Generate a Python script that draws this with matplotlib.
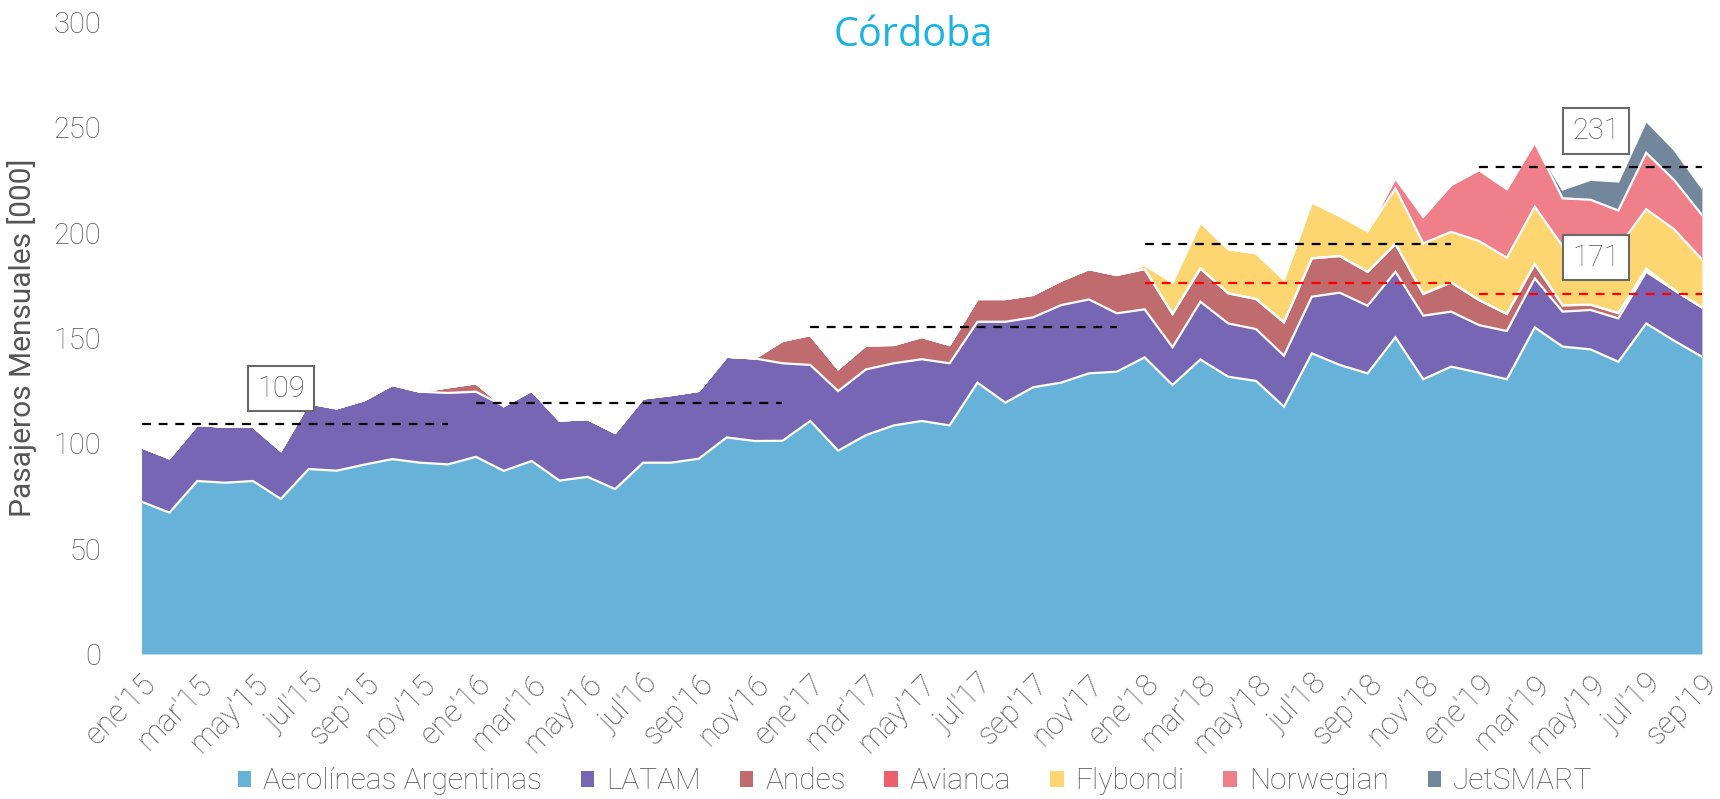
import numpy as np
import matplotlib
matplotlib.use("Agg")
import matplotlib.pyplot as plt
import matplotlib.transforms as mtransforms
from matplotlib.patches import Patch

plt.rcParams['font.family'] = ['Roboto', 'DejaVu Sans']

month_names = ["ene", "feb", "mar", "abr", "may", "jun", "jul", "ago", "sep", "oct", "nov", "dic"]
months = [f"{month_names[m]}'{y}" for y in range(15, 20) for m in range(12)][:57]

series_names = ["Aerolíneas Argentinas", "LATAM", "Andes", "Avianca", "Flybondi", "Norwegian", "JetSMART"]
colors = ["#66b2d9", "#7766b4", "#c06b6d", "#ee5f6e", "#fdd671", "#ef7f89", "#73879c"]

aerolineas = [72.3, 67.1, 82.1, 81.3, 82.1, 73.6, 87.8, 87.0, 89.9, 92.5, 90.8, 90.0,
              93.6, 86.9, 91.6, 82.3, 84.1, 78.3, 90.8, 90.8, 92.7, 102.8, 101.1, 101.2,
              110.6, 96.5, 103.9, 108.5, 110.6, 108.5, 128.8, 119.3, 126.6, 128.8, 133.2, 134.0,
              140.8, 127.7, 139.8, 131.6, 129.6, 117.4, 142.7, 137.2, 133.2, 150.3, 130.4, 136.4,
              133.5, 130.4, 155.0, 145.9, 144.6, 138.7, 156.9, 148.7, 141.1]
latam = [25.8, 25.8, 26.6, 26.6, 25.8, 22.9, 31.2, 29.6, 30.6, 35.2, 33.7, 33.9,
         30.9, 30.8, 33.4, 28.5, 27.4, 26.7, 30.5, 32.1, 32.2, 38.3, 39.2, 36.8,
         26.6, 28.3, 31.2, 29.5, 29.3, 29.5, 28.9, 38.4, 33.2, 36.8, 35.1, 27.7,
         22.8, 17.9, 27.4, 25.3, 24.6, 24.2, 26.9, 34.3, 32.1, 31.1, 30.2, 26.1,
         22.6, 22.9, 23.3, 16.6, 18.7, 20.6, 24.5, 24.1, 23.4]
andes = [0, 0, 0, 0, 0, 0, 0, 0, 0, 0, 0, 2.7,
         4.0, 0, 0, 0, 0, 0, 0, 0, 0, 0, 0, 10.6,
         14.2, 10.5, 11.4, 8.7, 10.6, 8.7, 10.8, 10.8, 10.7, 11.6, 14.4, 18.2,
         19.1, 15.8, 15.8, 14.3, 14.3, 15.8, 18.2, 17.4, 16.1, 13.2, 10.3, 13.9,
         11.9, 8.1, 6.8, 3.0, 2.5, 2.5, 0.5, 0, 0]
avianca = [0] * 54 + [1.0, 0, 0]
flybondi = [0] * 36 + [2.0, 15.0, 21.9, 21.0, 21.7, 20.4, 26.6, 19.1, 19.4, 26.4, 24.0, 24.0,
                       28.0, 26.7, 27.2, 28.1, 29.5, 31.3, 28.2, 28.8, 22.8]
norwegian = [0] * 45 + [4.8, 12.7, 22.2, 33.7, 32.6, 30.4, 22.7, 20.3, 17.4, 26.8, 23.4, 21.1]
jetsmart = [0] * 51 + [4.2, 9.5, 13.8, 15.2, 14.5, 12.9]

# annual averages (start month index, end month index, value)
avg_total_start = [0, 12, 24, 36, 48]
avg_total_end = [11, 23, 35, 47, 56]
avg_total_vals = [109, 119.3, 155.2, 194.8, 231]
avg_trad_start = [36, 48]
avg_trad_end = [47, 56]
avg_trad_vals = [175.9, 171]

labels_text = ["109", "231", "171"]
labels_x = [5.0, 52.2, 52.2]
labels_y = [126, 248.3, 188.2]

GRAY = "#555555"

fig = plt.figure(figsize=(17.2, 7.99), dpi=100)
ax = fig.add_axes([0.0823, 0.1815, 0.9072, 0.791])

x = np.arange(len(months))
data = np.array([aerolineas, latam, andes, avianca, flybondi, norwegian, jetsmart], dtype=float)
cum = np.cumsum(data, axis=0)
bottom = np.zeros(len(x))
for i in range(len(series_names)):
    ax.fill_between(x, bottom, cum[i], color=colors[i], linewidth=0, zorder=2)
    bottom = cum[i]
for i in range(len(series_names)):
    ax.plot(x, cum[i], color="white", lw=1.6, zorder=3, solid_joinstyle='miter')

for s, e, v in zip(avg_total_start, avg_total_end, avg_total_vals):
    ax.plot([s, e], [v, v], color="black", lw=1.6, ls=(0, (4, 3.5)), zorder=4)
for s, e, v in zip(avg_trad_start, avg_trad_end, avg_trad_vals):
    ax.plot([s, e], [v, v], color="#ff0000", lw=1.6, ls=(0, (4, 3.5)), zorder=4)

for t, lx, ly in zip(labels_text, labels_x, labels_y):
    ax.text(lx, ly, t, ha="center", va="center", fontsize=21, color=GRAY,
            fontweight="light", zorder=5,
            bbox=dict(boxstyle="square,pad=0.3", fc="white", ec="#6a6a6a", lw=1.5))

ax.set_xlim(0, len(months) - 1)
ax.set_ylim(0, 300)
ax.set_yticks(np.arange(0, 301, 50))
ax.set_xticks(x[::2])
ax.set_xticklabels(months[::2], rotation=45, ha="right", va="top", rotation_mode="anchor",
                   fontsize=22, color=GRAY, fontweight="light")
shift = mtransforms.ScaledTranslation(-4 / 72, 0, fig.dpi_scale_trans)
for lab in ax.get_xticklabels():
    lab.set_transform(lab.get_transform() + shift)
for lab in ax.get_yticklabels():
    lab.set_fontsize(21)
    lab.set_color(GRAY)
    lab.set_fontweight("light")
ax.tick_params(axis="both", length=0)
ax.tick_params(axis="x", pad=11)
ax.tick_params(axis="y", pad=29)
for sp in ax.spines.values():
    sp.set_visible(False)

ax.set_ylabel("Pasajeros Mensuales [000]", fontsize=21.5, color="#555555", fontweight="normal")
ax.yaxis.set_label_coords(-0.067, 0.5)

fig.text(0.531, 0.955, "Córdoba", ha="center", va="center", fontsize=28.5,
         color="#1ab3e6", family=["Open Sans", "DejaVu Sans"])

handles = [Patch(facecolor=c, edgecolor="none") for c in colors]
fig.legend(handles, series_names, loc="center", bbox_to_anchor=(0.532, 0.022), ncol=7,
           frameon=False, handlelength=0.45, handleheight=0.45,
           handletextpad=0.4, columnspacing=1.3, labelcolor=GRAY,
           prop={"weight": "light", "size": 21.5})

fig.savefig("out.png", dpi=100)
